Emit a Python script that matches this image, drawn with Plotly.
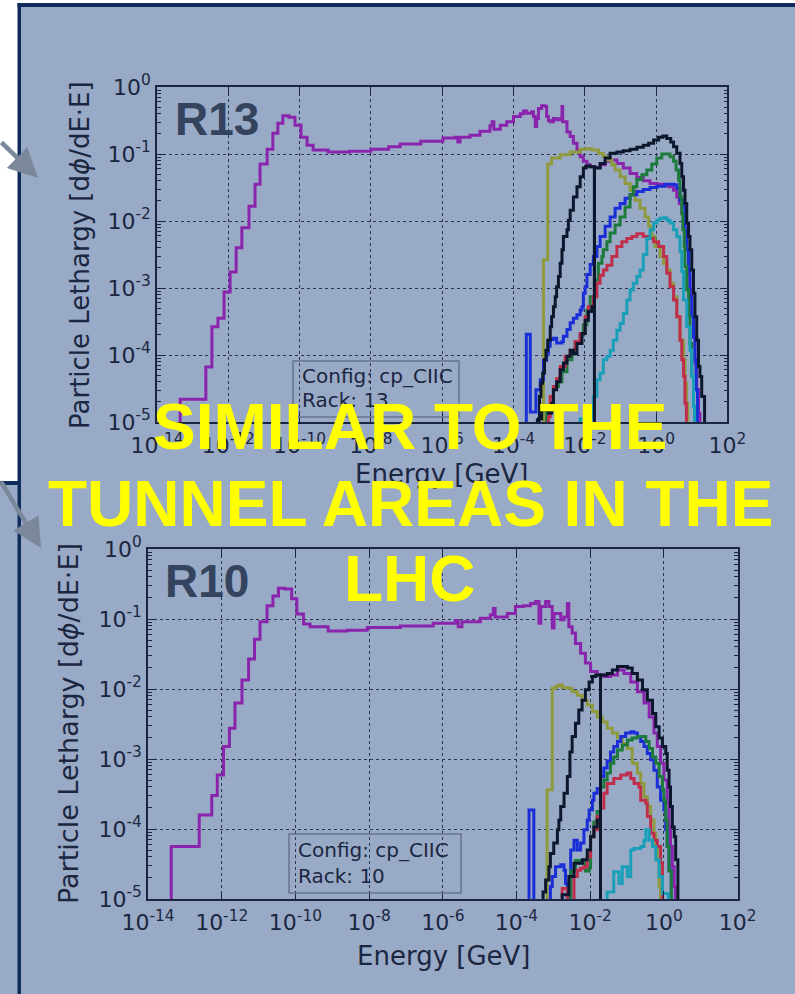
import plotly.graph_objects as go

# ---------------------------------------------------------------------------
# Lethargy spectra, stored as histogram bin edges (log10 of energy in GeV)
# and bin contents (log10 of lethargy). None marks an empty bin.
# ---------------------------------------------------------------------------

# ----- Rack 13 -----
r13_purple_edges = [-13.35, -12.63, -12.46, -12.29, -12.12, -11.95, -11.78, -11.62, -11.42, -11.25,
                    -11.11, -10.91, -10.75, -10.61, -10.47, -10.30, -10.13, -9.96, -9.79, -9.62,
                    -9.20, -8.60, -8.00, -7.50, -7.18, -6.60, -5.98, -5.64, -5.56, -5.50,
                    -5.22, -4.94, -4.66, -4.60, -4.55, -4.37, -4.19, -4.00, -3.81, -3.72,
                    -3.63, -3.49, -3.44, -3.39, -3.35, -3.30, -3.21, -3.11, -3.07, -3.02,
                    -2.97, -2.88, -2.79, -2.69, -2.64, -2.62, -2.50, -2.41, -2.32, -2.22,
                    -2.13, -2.04, -1.94, -1.85, -1.71, -1.57, -1.43, -1.29, -1.10, -0.92,
                    -0.73, -0.54, -0.36, -0.17, 0.02, 0.21, 0.35, 0.49, 0.58, 0.65,
                    0.72, 0.77, 0.81, 0.86, 0.91, 0.95, 1.00, 1.05, 1.09, 1.14,
                    1.19, 1.23]
r13_purple_vals = [-4.66, -4.18, -3.58, -3.45, -3.06, -2.76, -2.40, -2.10, -1.78, -1.45,
                   -1.15, -0.93, -0.69, -0.54, -0.43, -0.45, -0.57, -0.75, -0.87, -0.94,
                   -0.97, -0.96, -0.93, -0.89, -0.85, -0.81, -0.76, -0.75, -0.82, -0.75,
                   -0.72, -0.66, -0.58, -0.52, -0.63, -0.57, -0.52, -0.44, -0.40, -0.36,
                   -0.39, -0.37, -0.44, -0.59, -0.47, -0.32, -0.28, -0.29, -0.44, -0.50,
                   -0.52, -0.47, -0.49, -0.47, -0.29, -0.52, -0.67, -0.74, -0.84, -0.94,
                   -1.04, -1.11, -1.16, -1.19, -1.20, -1.16, -1.11, -1.09, -1.14, -1.21,
                   -1.29, -1.35, -1.40, -1.44, -1.45, -1.46, -1.49, -1.54, -1.64, -1.74,
                   -1.89, -2.03, -2.23, -2.43, -2.83, -3.03, -3.43, -3.73, -4.12, -4.52,
                   -4.87]

r13_olive_edges = [-3.16, -3.04, -2.93, -2.69, -2.41, -2.13, -1.96, -1.80, -1.62, -1.48,
                   -1.38, -1.24, -1.15, -1.01, -0.87, -0.73, -0.59, -0.45, -0.31, -0.21,
                   -0.12, -0.03, 0.11, 0.21, 0.30, 0.39, 0.49, 0.58, 0.67, 0.77,
                   0.81, 0.85, 0.89]
r13_olive_vals = [-2.58, -1.15, -1.06, -1.01, -0.97, -0.93, -0.92, -0.94, -0.99, -1.04,
                  -1.09, -1.16, -1.24, -1.34, -1.44, -1.54, -1.69, -1.81, -1.94, -2.08,
                  -2.23, -2.38, -2.53, -2.63, -2.73, -2.93, -3.13, -3.43, -3.78, -4.07,
                  -4.42, -4.72]

r13_blue_edges = [-3.64, -3.53, -3.37, -3.25, -3.16, -3.07, -3.02, -2.97, -2.88, -2.79,
                  -2.64, -2.60, -2.50, -2.41, -2.32, -2.22, -2.13, -2.08, -2.04, -1.99,
                  -1.94, -1.85, -1.76, -1.66, -1.57, -1.43, -1.29, -1.15, -1.01, -0.87,
                  -0.73, -0.54, -0.36, -0.17, 0.02, 0.25, 0.49, 0.58, 0.67, 0.75,
                  0.81, 0.86, 0.91, 0.95, 1.00, 1.05, 1.09, 1.12, 1.16]
r13_blue_vals = [-3.69, -4.85, -4.52, -4.37, -4.08, -3.97, -3.87, -3.77, -3.75, -3.82,
                 -3.80, -3.72, -3.62, -3.52, -3.45, -3.40, -3.33, -3.28, -3.08, -2.98,
                 -2.80, -2.65, -2.53, -2.38, -2.23, -2.08, -1.94, -1.81, -1.74, -1.66,
                 -1.61, -1.56, -1.53, -1.50, -1.48, -1.45, -1.46, -1.51, -1.69, -1.79,
                 -2.13, -2.43, -2.73, -3.13, -3.43, -3.73, -4.07, -4.52]

r13_green_edges = [-3.07, -2.88, -2.74, -2.64, -2.50, -2.36, -2.27, -2.13, -2.04, -1.94,
                   -1.85, -1.71, -1.62, -1.52, -1.48, -1.38, -1.29, -1.15, -1.01, -0.87,
                   -0.73, -0.64, -0.54, -0.40, -0.26, -0.12, 0.02, 0.16, 0.30, 0.39,
                   0.49, 0.56, 0.63, 0.67, 0.72, 0.75, 0.79, 0.81, 0.86, 0.91,
                   0.95, 1.00, 1.05, 1.08]
r13_green_vals = [-4.82, -4.47, -4.40, -4.25, -4.07, -3.98, -3.80, -3.70, -3.55, -3.33,
                  -3.13, -2.88, -2.63, -2.53, -2.43, -2.31, -2.18, -2.06, -1.94, -1.79,
                  -1.61, -1.49, -1.38, -1.31, -1.24, -1.15, -1.06, -1.00, -1.00, -1.04,
                  -1.11, -1.24, -1.39, -1.64, -1.89, -2.13, -2.38, -2.68, -3.03, -3.43,
                  -3.83, -4.32, -4.77]

r13_red_edges = [-3.02, -2.97, -2.88, -2.79, -2.69, -2.55, -2.41, -2.27, -2.13, -1.99,
                 -1.90, -1.76, -1.66, -1.57, -1.48, -1.38, -1.24, -1.10, -0.96, -0.82,
                 -0.68, -0.54, -0.36, -0.21, -0.07, 0.07, 0.21, 0.30, 0.39, 0.49,
                 0.58, 0.67, 0.72, 0.77, 0.81, 0.85]
r13_red_vals = [-4.92, -4.62, -4.47, -4.35, -4.17, -4.02, -3.93, -3.80, -3.68, -3.43,
                -3.28, -3.13, -2.93, -2.81, -2.73, -2.66, -2.53, -2.38, -2.31, -2.26,
                -2.23, -2.19, -2.23, -2.26, -2.31, -2.38, -2.53, -2.78, -2.98, -3.18,
                -3.43, -3.78, -4.07, -4.32, -4.72]

r13_cyan_edges = [-2.13, -1.76, -1.66, -1.57, -1.48, -1.38, -1.29, -1.20, -1.10, -1.01,
                  -0.92, -0.82, -0.73, -0.64, -0.54, -0.45, -0.36, -0.26, -0.17, -0.07,
                  0.02, 0.11, 0.21, 0.30, 0.39, 0.49, 0.58, 0.67, 0.72, 0.77,
                  0.86, 0.95, 1.00, 1.05, 1.08]
r13_cyan_vals = [-4.95, -4.62, -4.37, -4.27, -4.07, -4.02, -3.93, -3.78, -3.63, -3.53,
                 -3.38, -3.18, -3.03, -2.93, -2.83, -2.73, -2.50, -2.26, -2.13, -2.03,
                 -1.99, -1.96, -1.95, -1.99, -2.03, -2.13, -2.23, -2.45, -2.75, -3.18,
                 -3.58, -3.93, -4.32, -4.77]

r13_black_low_edges = [-3.33, -3.27, -3.23, -3.18, -3.13, -3.09, -3.04, -2.97, -2.93, -2.88,
                       -2.83, -2.79, -2.74, -2.69, -2.64, -2.60, -2.50, -2.46, -2.41, -2.32,
                       -2.22, -2.13, -2.04, -1.96, -1.85, -1.73]
r13_black_low_vals = [-4.97, -4.62, -4.42, -4.27, -4.07, -3.93, -3.78, -3.58, -3.43, -3.28,
                      -3.13, -2.98, -2.83, -2.63, -2.43, -2.23, -2.13, -1.99, -1.84, -1.64,
                      -1.49, -1.34, -1.21, -1.18, -1.19]

r13_black_high_edges = [-3.30, -3.21, -3.11, -3.02, -2.93, -2.88, -2.79, -2.69, -2.60, -2.50,
                        -2.41, -2.32, -2.22, -2.08, -1.99, -1.90, -1.80, -1.73, -1.57, -1.43,
                        -1.29, -1.10, -0.92, -0.73, -0.54, -0.36, -0.21, -0.07, 0.07, 0.19,
                        0.30, 0.41, 0.49, 0.58, 0.67, 0.72, 0.77, 0.81, 0.86, 0.91,
                        0.95, 1.00, 1.05, 1.09, 1.14, 1.19, 1.23, 1.28, 1.36]
r13_black_high_vals = [-4.95, -4.82, -4.77, -4.87, -4.72, -4.52, -4.40, -4.22, -4.12, -4.02,
                       -3.93, -3.98, -3.83, -3.68, -3.48, -3.35, -3.28, -1.21, -1.14, -1.06,
                       -0.99, -0.97, -0.95, -0.93, -0.90, -0.87, -0.84, -0.79, -0.75, -0.73,
                       -0.77, -0.82, -0.89, -0.99, -1.14, -1.34, -1.54, -1.74, -2.03, -2.23,
                       -2.43, -2.73, -3.08, -3.43, -3.78, -4.17, -4.32, -4.62]

# ----- Rack 10 -----
r10_purple_edges = [-13.37, -12.61, -12.27, -12.12, -11.95, -11.79, -11.64, -11.45, -11.27, -11.11,
                    -10.96, -10.77, -10.61, -10.46, -10.28, -10.10, -9.96, -9.78, -9.60, -9.11,
                    -8.60, -8.05, -7.15, -6.26, -5.66, -5.58, -5.48, -4.98, -4.71, -4.63,
                    -4.58, -4.25, -4.03, -3.81, -3.62, -3.48, -3.39, -3.34, -3.21, -3.12,
                    -3.03, -2.98, -2.80, -2.71, -2.62, -2.58, -2.49, -2.40, -2.26, -2.13,
                    -1.99, -1.81, -1.63, -1.45, -1.26, -1.08, -0.90, -0.72, -0.54, -0.40,
                    -0.27, -0.18, -0.09, 0.00, 0.09, 0.14, 0.18, 0.23, 0.28, 0.31]
r10_purple_vals = [-4.25, -3.80, -3.52, -3.23, -2.82, -2.56, -2.20, -1.87, -1.57, -1.29,
                   -1.04, -0.81, -0.67, -0.56, -0.57, -0.71, -0.93, -1.07, -1.11, -1.17,
                   -1.16, -1.12, -1.10, -1.06, -1.02, -1.11, -1.04, -0.99, -0.94, -0.85,
                   -0.97, -0.92, -0.82, -0.81, -0.78, -0.75, -1.06, -0.82, -0.75, -0.82,
                   -1.13, -0.92, -1.01, -0.97, -0.78, -1.11, -1.20, -1.35, -1.49, -1.63,
                   -1.75, -1.80, -1.82, -1.80, -1.73, -1.78, -1.90, -2.04, -2.20, -2.40,
                   -2.63, -2.82, -3.06, -3.30, -3.63, -3.97, -4.25, -4.54, -4.82]

r10_olive_edges = [-3.17, -3.03, -2.94, -2.85, -2.76, -2.62, -2.49, -2.35, -2.22, -2.08,
                   -1.94, -1.81, -1.67, -1.54, -1.40, -1.26, -1.13, -0.99, -0.86, -0.72,
                   -0.63, -0.54, -0.45, -0.36, -0.27, -0.22, -0.18, -0.13, -0.09]
r10_olive_vals = [-3.44, -1.99, -1.96, -1.94, -1.98, -1.99, -2.04, -2.09, -2.16, -2.23,
                  -2.32, -2.40, -2.47, -2.56, -2.63, -2.70, -2.78, -2.85, -3.06, -3.20,
                  -3.35, -3.54, -3.68, -3.87, -4.06, -4.25, -4.44, -4.82]

r10_blue_edges = [-3.66, -3.53, -3.08, -3.03, -2.94, -2.80, -2.71, -2.67, -2.62, -2.53,
                  -2.44, -2.35, -2.26, -2.17, -2.08, -2.03, -1.94, -1.90, -1.81, -1.72,
                  -1.63, -1.54, -1.45, -1.36, -1.26, -1.17, -1.04, -0.90, -0.81, -0.72,
                  -0.63, -0.54, -0.45, -0.36, -0.27, -0.18, -0.09, 0.00, 0.05, 0.09,
                  0.14, 0.20]
r10_blue_vals = [-3.73, None, -4.82, -4.68, -4.54, -4.51, -4.59, -4.78, -4.97, -4.30,
                 -4.16, -4.30, -4.20, -4.01, -3.87, -3.73, -3.59, -3.49, -3.42, -3.25,
                 -3.13, -3.03, -2.90, -2.82, -2.75, -2.68, -2.63, -2.61, -2.63, -2.68,
                 -2.75, -2.82, -2.92, -3.01, -3.16, -3.40, -3.59, -3.73, -4.01, -4.25,
                 -4.59]

r10_green_edges = [-2.53, -2.40, -2.26, -2.13, -2.03, -1.99, -1.90, -1.81, -1.72, -1.63,
                   -1.54, -1.45, -1.36, -1.26, -1.13, -0.99, -0.86, -0.72, -0.59, -0.49,
                   -0.40, -0.31, -0.22, -0.13, -0.04, 0.00, 0.05, 0.09, 0.14, 0.20]
r10_green_vals = [-4.60, -4.45, -4.45, -4.60, -4.55, -4.10, -3.90, -3.75, -3.40, -3.30,
                  -3.20, -3.06, -2.97, -2.87, -2.80, -2.73, -2.70, -2.68, -2.68, -2.75,
                  -2.85, -2.97, -3.06, -3.25, -3.44, -3.59, -3.87, -4.25, -4.60]

r10_red_edges = [-2.76, -2.62, -2.44, -2.35, -2.26, -2.17, -2.08, -1.99, -1.90, -1.81,
                 -1.72, -1.63, -1.54, -1.36, -1.17, -1.00, -0.90, -0.81, -0.68, -0.63,
                 -0.49, -0.45, -0.36, -0.27, -0.18, -0.09, -0.04]
r10_red_vals = [-4.85, None, -4.68, -4.59, -4.56, -4.54, -4.40, -4.11, -4.01, -3.82,
                -3.70, -3.49, -3.35, -3.28, -3.23, -3.20, -3.28, -3.35, -3.40, -3.59,
                -3.63, -3.82, -4.06, -4.16, -4.25, -4.49]

r10_cyan_edges = [-1.54, -1.36, -1.22, -1.13, -0.99, -0.90, -0.81, -0.63, -0.54, -0.49,
                  -0.40, -0.31, -0.22, -0.13, -0.04, 0.12]
r10_cyan_vals = [-4.90, -4.61, -4.78, -4.54, -4.68, -4.30, -4.28, -4.25, -4.16, -4.01,
                 -4.16, -4.25, -4.44, -4.68, -4.92]

r10_black_low_edges = [-3.28, -3.21, -3.12, -3.08, -2.99, -2.89, -2.85, -2.80, -2.71, -2.62,
                       -2.55, -2.49, -2.40, -2.31, -2.22, -2.13, -2.03, -1.94, -1.85, -1.72]
r10_black_low_vals = [-4.90, -4.73, -4.54, -4.35, -4.20, -4.01, -3.87, -3.68, -3.49, -3.25,
                      -2.90, -2.68, -2.49, -2.30, -2.16, -2.01, -1.90, -1.82, -1.80]

r10_black_high_edges = [-2.76, -2.58, -2.44, -2.21, -2.08, -1.99, -1.90, -1.81, -1.72, -1.54,
                        -1.40, -1.26, -1.13, -0.99, -0.86, -0.72, -0.58, -0.45, -0.31, -0.22,
                        -0.13, -0.04, 0.05, 0.09, 0.14, 0.18, 0.23, 0.28, 0.32, 0.38]
r10_black_high_vals = [-4.94, -4.68, -4.49, -4.44, -4.30, -4.11, -3.97, -3.87, -1.80, -1.78,
                       -1.73, -1.68, -1.68, -1.70, -1.78, -1.87, -2.01, -2.16, -2.35, -2.54,
                       -2.70, -2.82, -2.92, -3.16, -3.40, -3.68, -3.97, -4.11, -4.44]

# axis ticks
x_tick_exps = [-14, -12, -10, -8, -6, -4, -2, 0, 2]
y_tick_exps = [-5, -4, -3, -2, -1, 0]

# ---------------------------------------------------------------------------
# styling
# ---------------------------------------------------------------------------
W, H = 795, 994
BG = "#99aac6"
NAVY = "#0f2c5c"
AX = "#1a2641"
GRID = "#2a3651"
TXT = "#1b2641"
FLOOR = 1e-9

COLORS = {
    "purple": "#8a24ad",
    "olive": "#8e9a3c",
    "blue": "#1a2ed8",
    "green": "#1d7a3d",
    "red": "#bf2f4c",
    "cyan": "#1a9fb8",
    "black": "#0c172e",
}


def fx(x):
    return x / W


def fy(y):
    return 1 - y / H


def step_xy(edges, vals):
    """Turn histogram edges/contents into an outline usable with shape='hv'."""
    xs = [10 ** edges[0]]
    ys = [FLOOR]
    for e, v in zip(edges[:-1], vals):
        xs.append(10 ** e)
        ys.append(FLOOR if v is None else 10 ** v)
    xs.append(10 ** edges[-1])
    ys.append(FLOOR)
    return xs, ys


panels = [
    dict(
        xa="x", ya="y",
        series=[
            ("purple", r13_purple_edges, r13_purple_vals),
            ("olive", r13_olive_edges, r13_olive_vals),
            ("blue", r13_blue_edges, r13_blue_vals),
            ("green", r13_green_edges, r13_green_vals),
            ("red", r13_red_edges, r13_red_vals),
            ("cyan", r13_cyan_edges, r13_cyan_vals),
            ("black", r13_black_high_edges, r13_black_high_vals),
            ("black", r13_black_low_edges, r13_black_low_vals),
        ],
    ),
    dict(
        xa="x2", ya="y2",
        series=[
            ("purple", r10_purple_edges, r10_purple_vals),
            ("olive", r10_olive_edges, r10_olive_vals),
            ("blue", r10_blue_edges, r10_blue_vals),
            ("green", r10_green_edges, r10_green_vals),
            ("red", r10_red_edges, r10_red_vals),
            ("cyan", r10_cyan_edges, r10_cyan_vals),
            ("black", r10_black_high_edges, r10_black_high_vals),
            ("black", r10_black_low_edges, r10_black_low_vals),
        ],
    ),
]

fig = go.Figure()
for p in panels:
    for cname, edges, vals in p["series"]:
        xs, ys = step_xy(edges, vals)
        fig.add_trace(go.Scatter(
            x=xs, y=ys, mode="lines", line_shape="hv",
            line=dict(color=COLORS[cname], width=3),
            xaxis=p["xa"], yaxis=p["ya"], showlegend=False, hoverinfo="skip",
        ))


def sup_label(e):
    return "10<sup>%d</sup>" % e


def axis_style(fs):
    return dict(
        type="log", showline=True, linecolor=AX, linewidth=1.6, mirror="ticks",
        ticks="inside", ticklen=8, tickwidth=1, tickcolor=AX,
        showgrid=True, gridcolor=GRID, griddash="dot", gridwidth=1,
        zeroline=False, tickmode="array", automargin=False,
        tickfont=dict(family="DejaVu Sans", size=fs, color=TXT),
    )


y_minor = [m * 10 ** e for e in range(-5, 0) for m in range(2, 10)]


def x_axis(fs):
    return dict(axis_style(fs), range=[-14, 2], ticklabelstandoff=3,
                tickvals=[10 ** e for e in x_tick_exps],
                ticktext=[sup_label(e) for e in x_tick_exps])


def y_axis(fs):
    return dict(axis_style(fs), range=[-5, 0],
                tickvals=[10 ** e for e in y_tick_exps],
                ticktext=[sup_label(e) for e in y_tick_exps],
                minor=dict(tickmode="array", tickvals=y_minor, ticks="inside", ticklen=4,
                           tickcolor=AX, showgrid=False))


fig.update_layout(
    width=W, height=H, autosize=False,
    margin=dict(l=0, r=0, t=0, b=0, autoexpand=False),
    paper_bgcolor=BG, plot_bgcolor=BG,
    showlegend=False,
    xaxis=dict(x_axis(22), domain=[fx(157), fx(727.4)], anchor="y"),
    yaxis=dict(y_axis(22), domain=[fy(422), fy(87)], anchor="x"),
    xaxis2=dict(x_axis(22), domain=[fx(148), fx(737.6)], anchor="y2"),
    yaxis2=dict(y_axis(22), domain=[fy(899), fy(549)], anchor="x2"),
)


def prect(x0, x1, y0, y1, **kw):
    """Rectangle given in page pixels (y measured from the top)."""
    return dict(type="rect", xref="paper", yref="paper",
                x0=fx(x0), x1=fx(x1), y0=fy(y1), y1=fy(y0), **kw)


# slide frame: white margin at the upper left, navy border lines
shapes = [
    prect(0, 18, 0, 482, fillcolor="white", line=dict(width=0), layer="below"),
    prect(0, 795, 0, 3, fillcolor="white", line=dict(width=0), layer="below"),
    prect(17.5, 795, 3, 7, fillcolor=NAVY, line=dict(width=0), layer="below"),
    prect(17.5, 21, 3, 994, fillcolor=NAVY, line=dict(width=0), layer="below"),
    prect(0, 18, 481, 485, fillcolor=NAVY, line=dict(width=0), layer="below"),
    # info boxes
    prect(293, 459, 361, 417, line=dict(color="#65748e", width=1.5),
          fillcolor="rgba(0,0,0,0)", layer="above"),
    prect(289, 461, 834, 893, line=dict(color="#65748e", width=1.5),
          fillcolor="rgba(0,0,0,0)", layer="above"),
]
fig.update_layout(shapes=shapes)

ann = []


def text(x, y, s, size, color=TXT, family="DejaVu Sans", xanchor="center",
         weight="normal", angle=0):
    ann.append(dict(x=fx(x), y=fy(y), xref="paper", yref="paper", text=s,
                    showarrow=False, xanchor=xanchor, yanchor="middle", textangle=angle,
                    font=dict(family=family, size=size, color=color, weight=weight)))


# axis titles
ylab = "Particle Lethargy [d<i>ϕ</i>/dE·E]"
text(80, 255, ylab, 26, angle=-90)
text(68, 724, ylab, 27, angle=-90)
text(442, 474, "Energy [GeV]", 26)
text(444, 956, "Energy [GeV]", 26)

# info box contents
text(300, 376, "Config: cp_CIIC", 20, xanchor="left")
text(300, 400, "Rack: 13", 20, xanchor="left")
text(296, 850, "Config: cp_CIIC", 20, xanchor="left")
text(296, 876, "Rack: 10", 20, xanchor="left")

# rack tags
text(173, 119, "R13", 46, color="#34435e", family="Liberation Sans", xanchor="left", weight="bold")
text(163, 581, "R10", 46, color="#34435e", family="Liberation Sans", xanchor="left", weight="bold")

# pointer arrows on the slide
for tip, off in [((38, 178), (-50, -37)), ((41, 548), (-50, -68))]:
    ann.append(dict(x=fx(tip[0]), y=fy(tip[1]), xref="paper", yref="paper",
                    ax=off[0], ay=off[1], axref="pixel", ayref="pixel", text="",
                    showarrow=True, arrowhead=2, arrowsize=1.3, arrowwidth=4.5,
                    arrowcolor="#7b879a"))

# headline
for s, yy in [("SIMILAR TO THE", 427), ("TUNNEL AREAS IN THE", 504), ("LHC", 579)]:
    text(410, yy, s, 64, color="#ffff00", family="Liberation Sans", weight="bold")

fig.update_layout(annotations=ann)
fig.write_html("out.html")
